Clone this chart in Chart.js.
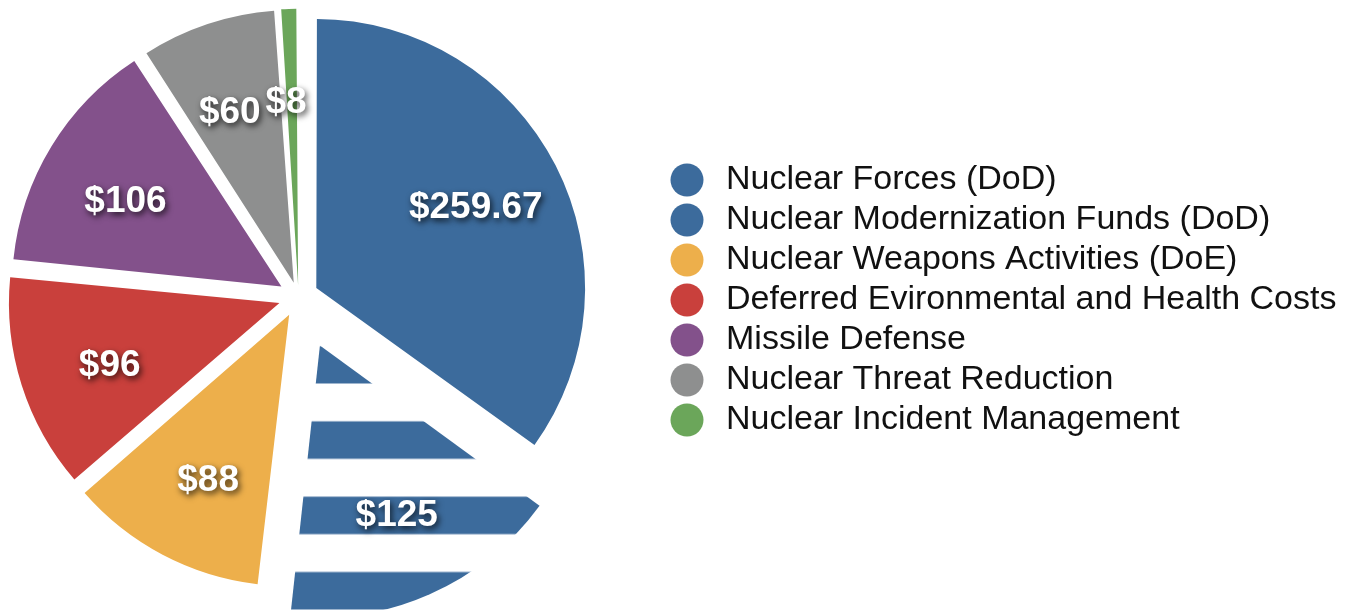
<!DOCTYPE html>
<html>
<head>
<meta charset="utf-8">
<script src="https://cdn.jsdelivr.net/npm/chart.js@4.4.1/dist/chart.umd.min.js"></script>
<style>
  html, body { margin: 0; padding: 0; background: #ffffff; }
  #wrap { width: 1369px; height: 612px; }
</style>
</head>
<body>
<div id="wrap"><canvas id="c" width="1369" height="612"></canvas></div>
<script>
// ---- data ----
const categories = [
  'Nuclear Forces (DoD)',
  'Nuclear Modernization Funds (DoD)',
  'Nuclear Weapons Activities (DoE)',
  'Deferred Evironmental and Health Costs',
  'Missile Defense',
  'Nuclear Threat Reduction',
  'Nuclear Incident Management'
];
const costs = [259.67, 125, 88, 96, 106, 60, 8];

// ---- styles ----
const colors = ['#3c6b9c', '#3c6b9c', '#edaf4b', '#c9403c', '#83518b', '#8e8f8f', '#6ba65a'];
const explode = [80, 212, 80, 80, 80, 60, 48];   // Chart.js arc offset option
const labelNudge = [[-1, 2], [4, 5], [3, 7], [2, 8], [-2, 9], [-7, 1], [-6, -2]];
const PIE_AREA_WIDTH = 597;

const canvas = document.getElementById('c');
const mainCtx = canvas.getContext('2d');

function stripePattern(color) {
  const c = document.createElement('canvas');
  c.width = 8; c.height = 226;
  const g = c.getContext('2d');
  g.fillStyle = color;
  const period = 226 / 3, band = 37.5, phase = 71.5;
  for (let k = -1; k < 4; k++) g.fillRect(0, phase + k * period, 8, band);
  return mainCtx.createPattern(c, 'repeat');
}

const dotCache = {};
function dot(color) {
  if (dotCache[color]) return dotCache[color];
  const c = document.createElement('canvas');
  c.width = 34; c.height = 34;
  const g = c.getContext('2d');
  g.fillStyle = color;
  g.beginPath(); g.arc(17, 17, 16.5, 0, Math.PI * 2); g.fill();
  return (dotCache[color] = c);
}

const fills = colors.map((c, i) => i === 1 ? stripePattern(c) : c);

const legendPlace = {
  id: 'legendPlace',
  beforeInit(chart) {
    const fit = chart.legend.fit;
    chart.legend.fit = function () {
      fit.call(this);
      this.width = chart.width - PIE_AREA_WIDTH;
    };
  },
  afterLayout(chart) {
    const l = chart.legend;
    l.left += 62; l.right += 62;
    l.top += 3; l.bottom += 3;
  }
};

const valueLabels = {
  id: 'valueLabels',
  afterDatasetsDraw(chart) {
    const ctx = chart.ctx;
    const meta = chart.getDatasetMeta(0);
    meta.data.forEach((arc, i) => {
      const p = arc.getProps(['x', 'y', 'startAngle', 'endAngle', 'outerRadius'], true);
      const mid = (p.startAngle + p.endAngle) / 2;
      const r = explode[i] / 4 + p.outerRadius * 0.68;
      ctx.save();
      ctx.font = 'bold 37px "Liberation Sans", Arial, Helvetica, sans-serif';
      ctx.fillStyle = '#ffffff';
      ctx.textAlign = 'center';
      ctx.textBaseline = 'middle';
      ctx.shadowColor = 'rgba(0,0,0,0.75)';
      ctx.shadowBlur = 6;
      ctx.shadowOffsetX = 2;
      ctx.shadowOffsetY = 3;
      ctx.fillText('$' + costs[i],
        p.x + Math.cos(mid) * r + labelNudge[i][0],
        p.y + Math.sin(mid) * r + labelNudge[i][1]);
      ctx.restore();
    });
  }
};

new Chart(canvas, {
  type: 'pie',
  data: {
    labels: categories,
    datasets: [{
      data: costs,
      backgroundColor: fills,
      borderWidth: 0,
      offset: explode,
      hoverOffset: 0
    }]
  },
  options: {
    responsive: false,
    animation: false,
    events: [],
    radius: 265,
    layout: { padding: { left: 0, top: 0, right: 0, bottom: 18 } },
    plugins: {
      tooltip: { enabled: false },
      legend: {
        position: 'right',
        labels: {
          usePointStyle: true,
          pointStyleWidth: 44,
          padding: 6,
          color: '#111111',
          font: { family: '"Liberation Sans", Arial, Helvetica, sans-serif', size: 34 },
          generateLabels() {
            return categories.map((t, i) => ({
              text: t,
              fillStyle: colors[i],
              strokeStyle: colors[i],
              lineWidth: 0,
              pointStyle: dot(colors[i]),
              hidden: false,
              index: i,
              fontColor: '#111111'
            }));
          }
        }
      }
    }
  },
  plugins: [legendPlace, valueLabels]
});
</script>
</body>
</html>
